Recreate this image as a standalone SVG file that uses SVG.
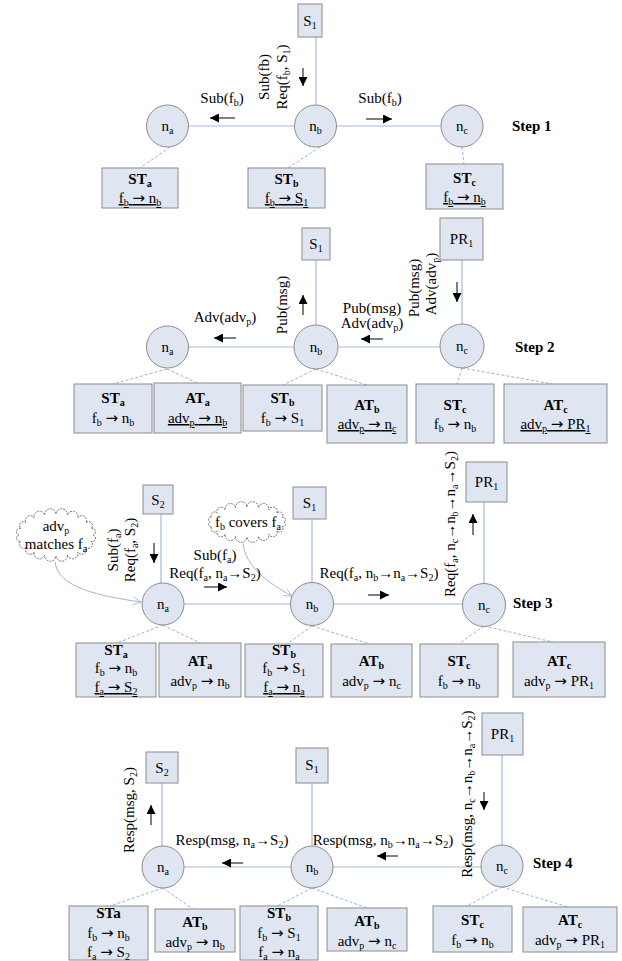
<svg xmlns="http://www.w3.org/2000/svg" width="622" height="961" viewBox="0 0 622 961">
<style>
.t{font-family:"Liberation Serif","Times New Roman",serif;font-size:15px;fill:#000}
.m{text-anchor:middle}
.bd{font-weight:bold}
.s{font-size:10px;baseline-shift:-3px}
.a{font-family:"DejaVu Sans",sans-serif;font-size:15px}
.u{text-decoration:underline}
.box{fill:#dfe6f2;stroke:#8c8c8c;stroke-width:1}
.ln{stroke:#a3bbd8;stroke-width:1.2;fill:none}
.dl{stroke:#7f9fcc;stroke-dasharray:3 2;fill:none;stroke-width:0.8}
.ar{stroke:#000;stroke-width:1;marker-end:url(#ah)}
.cv{stroke:#9fb6d3;stroke-width:1;fill:none;marker-end:url(#oh)}
.cl{fill:#fff;stroke:#555;stroke-width:0.8;stroke-dasharray:2 1}
</style>
<defs>
<marker id="ah" viewBox="0 0 10 10" refX="10" refY="5" markerWidth="10" markerHeight="9" markerUnits="userSpaceOnUse" orient="auto"><path d="M0,0 L10,5 L0,10 z" fill="#000"/></marker>
<marker id="oh" viewBox="0 0 10 10" refX="10" refY="5" markerWidth="9" markerHeight="8" markerUnits="userSpaceOnUse" orient="auto"><path d="M0,0 L10,5 L0,10" fill="none" stroke="#9fb6d3"/></marker>
</defs>

<!-- connectors -->
<g id="connectors">
<!-- step 1 -->
<line class="ln" x1="167" y1="126" x2="462" y2="126"/>
<line class="ln" x1="316" y1="37" x2="316" y2="105"/>
<line class="dl" x1="170" y1="147" x2="140" y2="168"/>
<line class="dl" x1="320" y1="147" x2="288" y2="168"/>
<line class="dl" x1="462" y1="147" x2="464" y2="164"/>
<line class="ar" x1="235" y1="118" x2="210" y2="118"/>
<line class="ar" x1="366" y1="119" x2="392" y2="119"/>
<line class="ar" x1="303" y1="68" x2="303" y2="86"/>
<!-- step 2 -->
<line class="ln" x1="167" y1="347" x2="462" y2="347"/>
<line class="ln" x1="316" y1="260" x2="316" y2="326"/>
<line class="ln" x1="462" y1="260" x2="462" y2="325"/>
<line class="dl" x1="167" y1="369" x2="113" y2="384"/>
<line class="dl" x1="167" y1="369" x2="197" y2="383"/>
<line class="dl" x1="316" y1="369" x2="283" y2="385"/>
<line class="dl" x1="316" y1="369" x2="367" y2="385"/>
<line class="dl" x1="462" y1="368" x2="457" y2="384"/>
<line class="dl" x1="462" y1="368" x2="553" y2="384"/>
<line class="ar" x1="236" y1="338" x2="214" y2="338"/>
<line class="ar" x1="303" y1="315" x2="303" y2="295"/>
<line class="ar" x1="383" y1="339" x2="361" y2="339"/>
<line class="ar" x1="457" y1="282" x2="457" y2="302"/>
<!-- step 3 -->
<line class="ln" x1="163" y1="604" x2="484" y2="604"/>
<line class="ln" x1="161" y1="514" x2="161" y2="583"/>
<line class="ln" x1="312" y1="519" x2="312" y2="583"/>
<line class="ln" x1="484" y1="502" x2="484" y2="584"/>
<line class="dl" x1="163" y1="625" x2="117" y2="643"/>
<line class="dl" x1="163" y1="625" x2="200" y2="643"/>
<line class="dl" x1="312" y1="626" x2="287" y2="644"/>
<line class="dl" x1="312" y1="626" x2="370" y2="644"/>
<line class="dl" x1="484" y1="626" x2="460" y2="643"/>
<line class="dl" x1="484" y1="626" x2="557" y2="643"/>
<line class="ar" x1="154" y1="543" x2="154" y2="563"/>
<line class="ar" x1="204" y1="587" x2="227" y2="587"/>
<line class="ar" x1="368" y1="595" x2="389" y2="595"/>
<line class="ar" x1="473" y1="535" x2="473" y2="514"/>
<path class="cv" d="M55,562 C58,588 100,596 141,602"/>
<path class="cv" d="M243,543 C245,566 268,583 292,596"/>
<!-- step 4 -->
<line class="ln" x1="163" y1="867" x2="502" y2="867"/>
<line class="ln" x1="162" y1="783" x2="162" y2="846"/>
<line class="ln" x1="312" y1="783" x2="312" y2="846"/>
<line class="ln" x1="502" y1="755" x2="502" y2="845"/>
<line class="dl" x1="163" y1="888" x2="110" y2="906"/>
<line class="dl" x1="163" y1="888" x2="193" y2="909"/>
<line class="dl" x1="312" y1="888" x2="277" y2="906"/>
<line class="dl" x1="312" y1="888" x2="367" y2="908"/>
<line class="dl" x1="502" y1="887" x2="467" y2="906"/>
<line class="dl" x1="502" y1="887" x2="568" y2="907"/>
<line class="ar" x1="151" y1="825" x2="151" y2="805"/>
<line class="ar" x1="243" y1="863" x2="222" y2="863"/>
<line class="ar" x1="398" y1="856" x2="377" y2="856"/>
<line class="ar" x1="484" y1="792" x2="484" y2="810"/>
</g>

<!-- clouds -->
<g id="cloud-match">
<path class="cl" d="M93,535 A1,1 0 0 1 91.2,541.5 A1,1 0 0 1 85.9,547.3 A1,1 0 0 1 77.8,552 A1,1 0 0 1 67.4,555 A1,1 0 0 1 56,556 A1,1 0 0 1 44.6,555 A1,1 0 0 1 34.2,552 A1,1 0 0 1 26.1,547.3 A1,1 0 0 1 20.8,541.5 A1,1 0 0 1 19,535 A1,1 0 0 1 20.8,528.5 A1,1 0 0 1 26.1,522.7 A1,1 0 0 1 34.2,518 A1,1 0 0 1 44.6,515 A1,1 0 0 1 56,514 A1,1 0 0 1 67.4,515 A1,1 0 0 1 77.8,518 A1,1 0 0 1 85.9,522.7 A1,1 0 0 1 91.2,528.5 A1,1 0 0 1 93,535 Z"/>
<text class="t m" x="56" y="531">adv<tspan class="s">p</tspan></text>
<text class="t m" x="56" y="549">matches f<tspan class="s">a</tspan></text>
</g>
<g id="cloud-covers">
<path class="cl" d="M284,522 A1,1 0 0 1 282.2,526.6 A1,1 0 0 1 276.9,530.8 A1,1 0 0 1 268.8,534.1 A1,1 0 0 1 258.4,536.3 A1,1 0 0 1 247,537 A1,1 0 0 1 235.6,536.3 A1,1 0 0 1 225.2,534.1 A1,1 0 0 1 217.1,530.8 A1,1 0 0 1 211.8,526.6 A1,1 0 0 1 210,522 A1,1 0 0 1 211.8,517.4 A1,1 0 0 1 217.1,513.2 A1,1 0 0 1 225.2,509.9 A1,1 0 0 1 235.6,507.7 A1,1 0 0 1 247,507 A1,1 0 0 1 258.4,507.7 A1,1 0 0 1 268.8,509.9 A1,1 0 0 1 276.9,513.2 A1,1 0 0 1 282.2,517.4 A1,1 0 0 1 284,522 Z"/>
<text class="t m" x="248" y="527">f<tspan class="s">b</tspan> covers f<tspan class="s">a</tspan></text>
</g>

<!-- Step 1 nodes -->
<g id="s1-S1"><rect class="box" x="298" y="4" width="24" height="33"/><text class="t m" x="310" y="26">S<tspan class="s">1</tspan></text></g>
<g id="s1-na"><circle class="box" cx="167.5" cy="126" r="21"/><text class="t m" x="167.5" y="131">n<tspan class="s">a</tspan></text></g>
<g id="s1-nb"><circle class="box" cx="315.5" cy="126" r="21"/><text class="t m" x="315.5" y="131">n<tspan class="s">b</tspan></text></g>
<g id="s1-nc"><circle class="box" cx="462" cy="126" r="21"/><text class="t m" x="462" y="131">n<tspan class="s">c</tspan></text></g>
<g id="s1-STa"><rect class="box" x="102" y="168" width="76" height="40"/><text class="t m bd" x="140" y="184">ST<tspan class="s">a</tspan></text><text class="t m u" x="140" y="203">f<tspan class="s">b</tspan> <tspan class="a">→</tspan> n<tspan class="s">b</tspan></text></g>
<g id="s1-STb"><rect class="box" x="248" y="168" width="77" height="40"/><text class="t m bd" x="286.5" y="184">ST<tspan class="s">b</tspan></text><text class="t m u" x="286.5" y="203">f<tspan class="s">b</tspan> <tspan class="a">→</tspan> S<tspan class="s">1</tspan></text></g>
<g id="s1-STc"><rect class="box" x="426" y="164" width="77" height="45"/><text class="t m bd" x="464.5" y="183">ST<tspan class="s">c</tspan></text><text class="t m u" x="464.5" y="202">f<tspan class="s">b</tspan> <tspan class="a">→</tspan> n<tspan class="s">b</tspan></text></g>

<!-- Step 2 nodes -->
<g id="s2-S1"><rect class="box" x="302" y="228" width="28" height="32"/><text class="t m" x="316" y="249">S<tspan class="s">1</tspan></text></g>
<g id="s2-PR1"><rect class="box" x="440" y="218" width="43" height="42"/><text class="t m" x="461.5" y="244">PR<tspan class="s">1</tspan></text></g>
<g id="s2-na"><circle class="box" cx="167.5" cy="347" r="21"/><text class="t m" x="167.5" y="352">n<tspan class="s">a</tspan></text></g>
<g id="s2-nb"><circle class="box" cx="316" cy="347" r="22"/><text class="t m" x="316" y="352">n<tspan class="s">b</tspan></text></g>
<g id="s2-nc"><circle class="box" cx="462" cy="346" r="22"/><text class="t m" x="462" y="351">n<tspan class="s">c</tspan></text></g>
<g id="s2-STa"><rect class="box" x="74" y="384" width="78" height="49"/><text class="t m bd" x="113" y="403">ST<tspan class="s">a</tspan></text><text class="t m" x="113" y="423">f<tspan class="s">b</tspan> <tspan class="a">→</tspan> n<tspan class="s">b</tspan></text></g>
<g id="s2-ATa"><rect class="box" x="154" y="383" width="87" height="50"/><text class="t m bd" x="197.5" y="403">AT<tspan class="s">a</tspan></text><text class="t m u" x="197.5" y="423">adv<tspan class="s">p</tspan> <tspan class="a">→</tspan> n<tspan class="s">b</tspan></text></g>
<g id="s2-STb"><rect class="box" x="243" y="385" width="79" height="46"/><text class="t m bd" x="282.5" y="403">ST<tspan class="s">b</tspan></text><text class="t m" x="282.5" y="423">f<tspan class="s">b</tspan> <tspan class="a">→</tspan> S<tspan class="s">1</tspan></text></g>
<g id="s2-ATb"><rect class="box" x="327" y="385" width="80" height="58"/><text class="t m bd" x="367" y="410">AT<tspan class="s">b</tspan></text><text class="t m u" x="367" y="429">adv<tspan class="s">p</tspan> <tspan class="a">→</tspan> n<tspan class="s">c</tspan></text></g>
<g id="s2-STc"><rect class="box" x="416" y="384" width="78" height="59"/><text class="t m bd" x="455" y="410">ST<tspan class="s">c</tspan></text><text class="t m" x="455" y="429">f<tspan class="s">b</tspan> <tspan class="a">→</tspan> n<tspan class="s">b</tspan></text></g>
<g id="s2-ATc"><rect class="box" x="504" y="384" width="103" height="59"/><text class="t m bd" x="555.5" y="410">AT<tspan class="s">c</tspan></text><text class="t m u" x="555.5" y="429">adv<tspan class="s">p</tspan> <tspan class="a">→</tspan> PR<tspan class="s">1</tspan></text></g>

<!-- Step 3 nodes -->
<g id="s3-S2"><rect class="box" x="143" y="485" width="30" height="29"/><text class="t m" x="158" y="505">S<tspan class="s">2</tspan></text></g>
<g id="s3-S1"><rect class="box" x="293" y="487" width="33" height="32"/><text class="t m" x="309.5" y="508">S<tspan class="s">1</tspan></text></g>
<g id="s3-PR1"><rect class="box" x="466" y="462" width="41" height="40"/><text class="t m" x="486.5" y="487">PR<tspan class="s">1</tspan></text></g>
<g id="s3-na"><circle class="box" cx="163" cy="604" r="21"/><text class="t m" x="163" y="609">n<tspan class="s">a</tspan></text></g>
<g id="s3-nb"><circle class="box" cx="312" cy="604" r="21.5"/><text class="t m" x="312" y="609">n<tspan class="s">b</tspan></text></g>
<g id="s3-nc"><circle class="box" cx="484" cy="605" r="21.5"/><text class="t m" x="484" y="610">n<tspan class="s">c</tspan></text></g>
<g id="s3-STa"><rect class="box" x="76" y="643" width="80" height="54"/><text class="t m bd" x="116" y="655">ST<tspan class="s">a</tspan></text><text class="t m" x="116" y="673">f<tspan class="s">b</tspan> <tspan class="a">→</tspan> n<tspan class="s">b</tspan></text><text class="t m u" x="116" y="692">f<tspan class="s">a</tspan> <tspan class="a">→</tspan> S<tspan class="s">2</tspan></text></g>
<g id="s3-ATa"><rect class="box" x="159" y="643" width="82" height="54"/><text class="t m bd" x="200" y="666">AT<tspan class="s">a</tspan></text><text class="t m" x="200" y="686">adv<tspan class="s">p</tspan> <tspan class="a">→</tspan> n<tspan class="s">b</tspan></text></g>
<g id="s3-STb"><rect class="box" x="245" y="644" width="78" height="53"/><text class="t m bd" x="284" y="655">ST<tspan class="s">b</tspan></text><text class="t m" x="284" y="673">f<tspan class="s">b</tspan> <tspan class="a">→</tspan> S<tspan class="s">1</tspan></text><text class="t m u" x="284" y="692">f<tspan class="s">a</tspan> <tspan class="a">→</tspan> n<tspan class="s">a</tspan></text></g>
<g id="s3-ATb"><rect class="box" x="331" y="644" width="81" height="53"/><text class="t m bd" x="371.5" y="666">AT<tspan class="s">b</tspan></text><text class="t m" x="371.5" y="686">adv<tspan class="s">p</tspan> <tspan class="a">→</tspan> n<tspan class="s">c</tspan></text></g>
<g id="s3-STc"><rect class="box" x="420" y="644" width="78" height="53"/><text class="t m bd" x="459" y="666">ST<tspan class="s">c</tspan></text><text class="t m" x="459" y="686">f<tspan class="s">b</tspan> <tspan class="a">→</tspan> n<tspan class="s">b</tspan></text></g>
<g id="s3-ATc"><rect class="box" x="513" y="642" width="92" height="55"/><text class="t m bd" x="559" y="666">AT<tspan class="s">c</tspan></text><text class="t m" x="559" y="686">adv<tspan class="s">p</tspan> <tspan class="a">→</tspan> PR<tspan class="s">1</tspan></text></g>

<!-- Step 4 nodes -->
<g id="s4-S2"><rect class="box" x="146" y="752" width="32" height="31"/><text class="t m" x="162" y="773">S<tspan class="s">2</tspan></text></g>
<g id="s4-S1"><rect class="box" x="296" y="748" width="32" height="35"/><text class="t m" x="312" y="770">S<tspan class="s">1</tspan></text></g>
<g id="s4-PR1"><rect class="box" x="482" y="713" width="41" height="42"/><text class="t m" x="502.5" y="739">PR<tspan class="s">1</tspan></text></g>
<g id="s4-na"><circle class="box" cx="163" cy="867" r="21"/><text class="t m" x="163" y="872">n<tspan class="s">a</tspan></text></g>
<g id="s4-nb"><circle class="box" cx="312" cy="867" r="21"/><text class="t m" x="312" y="872">n<tspan class="s">b</tspan></text></g>
<g id="s4-nc"><circle class="box" cx="502" cy="866" r="21"/><text class="t m" x="502" y="871">n<tspan class="s">c</tspan></text></g>
<g id="s4-STa"><rect class="box" x="69" y="906" width="79" height="54"/><text class="t m bd" x="108.5" y="918">STa</text><text class="t m" x="108.5" y="938">f<tspan class="s">b</tspan> <tspan class="a">→</tspan> n<tspan class="s">b</tspan></text><text class="t m" x="108.5" y="957">f<tspan class="s">a</tspan> <tspan class="a">→</tspan> S<tspan class="s">2</tspan></text></g>
<g id="s4-ATb1"><rect class="box" x="155" y="909" width="80" height="43"/><text class="t m bd" x="195" y="927">AT<tspan class="s">b</tspan></text><text class="t m" x="195" y="947">adv<tspan class="s">p</tspan> <tspan class="a">→</tspan> n<tspan class="s">b</tspan></text></g>
<g id="s4-STb"><rect class="box" x="240" y="906" width="78" height="54"/><text class="t m bd" x="279" y="918">ST<tspan class="s">b</tspan></text><text class="t m" x="279" y="938">f<tspan class="s">b</tspan> <tspan class="a">→</tspan> S<tspan class="s">1</tspan></text><text class="t m" x="279" y="957">f<tspan class="s">a</tspan> <tspan class="a">→</tspan> n<tspan class="s">a</tspan></text></g>
<g id="s4-ATb2"><rect class="box" x="327" y="908" width="80" height="43"/><text class="t m bd" x="367" y="926">AT<tspan class="s">b</tspan></text><text class="t m" x="367" y="946">adv<tspan class="s">p</tspan> <tspan class="a">→</tspan> n<tspan class="s">c</tspan></text></g>
<g id="s4-STc"><rect class="box" x="433" y="906" width="79" height="46"/><text class="t m bd" x="472.5" y="925">ST<tspan class="s">c</tspan></text><text class="t m" x="472.5" y="945">f<tspan class="s">b</tspan> <tspan class="a">→</tspan> n<tspan class="s">b</tspan></text></g>
<g id="s4-ATc"><rect class="box" x="523" y="907" width="94" height="45"/><text class="t m bd" x="570" y="925">AT<tspan class="s">c</tspan></text><text class="t m" x="570" y="945">adv<tspan class="s">p</tspan> <tspan class="a">→</tspan> PR<tspan class="s">1</tspan></text></g>

<!-- connector labels -->
<g id="labels">
<text class="t m" x="222" y="103">Sub(f<tspan class="s">b</tspan>)</text>
<text class="t m" x="380" y="103">Sub(f<tspan class="s">b</tspan>)</text>
<text class="t m" transform="translate(269,77) rotate(-90)">Sub(fb)</text>
<text class="t m" transform="translate(287,77) rotate(-90)">Req(f<tspan class="s">b</tspan>, S<tspan class="s">1</tspan>)</text>

<text class="t m" x="225" y="322">Adv(adv<tspan class="s">p</tspan>)</text>
<text class="t m" transform="translate(287,305) rotate(-90)">Pub(msg)</text>
<text class="t m" x="372" y="313">Pub(msg)</text>
<text class="t m" x="372" y="328">Adv(adv<tspan class="s">p</tspan>)</text>
<text class="t m" transform="translate(419,288) rotate(-90)">Pub(msg)</text>
<text class="t m" transform="translate(436,284) rotate(-90)">Adv(adv<tspan class="s">p</tspan>)</text>

<text class="t m" transform="translate(118,550) rotate(-90)">Sub(f<tspan class="s">a</tspan>)</text>
<text class="t m" transform="translate(135,550) rotate(-90)">Req(f<tspan class="s">a</tspan>, S<tspan class="s">2</tspan>)</text>
<text class="t m" x="215" y="560">Sub(f<tspan class="s">a</tspan>)</text>
<text class="t m" x="215" y="578">Req(f<tspan class="s">a</tspan>, n<tspan class="s">a</tspan>→S<tspan class="s">2</tspan>)</text>
<text class="t m" x="379" y="578">Req(f<tspan class="s">a</tspan>, n<tspan class="s">b</tspan>→n<tspan class="s">a</tspan>→S<tspan class="s">2</tspan>)</text>
<text class="t m" transform="translate(455,524) rotate(-90)">Req(f<tspan class="s">a</tspan>, n<tspan class="s">c</tspan>→n<tspan class="s">b</tspan>→n<tspan class="s">a</tspan>→S<tspan class="s">2</tspan>)</text>

<text class="t m" transform="translate(134,810) rotate(-90)">Resp(msg, S<tspan class="s">2</tspan>)</text>
<text class="t m" x="232" y="845">Resp(msg, n<tspan class="s">a</tspan>→S<tspan class="s">2</tspan>)</text>
<text class="t m" x="383" y="845">Resp(msg, n<tspan class="s">b</tspan>→n<tspan class="s">a</tspan>→S<tspan class="s">2</tspan>)</text>
<text class="t m" transform="translate(472,794) rotate(-90)">Resp(msg, n<tspan class="s">c</tspan>→n<tspan class="s">b</tspan>→n<tspan class="s">a</tspan>→S<tspan class="s">2</tspan>)</text>

<text class="t bd" x="512" y="131">Step 1</text>
<text class="t bd" x="515" y="352">Step 2</text>
<text class="t bd" x="513" y="608">Step 3</text>
<text class="t bd" x="533" y="868">Step 4</text>
</g>
</svg>
